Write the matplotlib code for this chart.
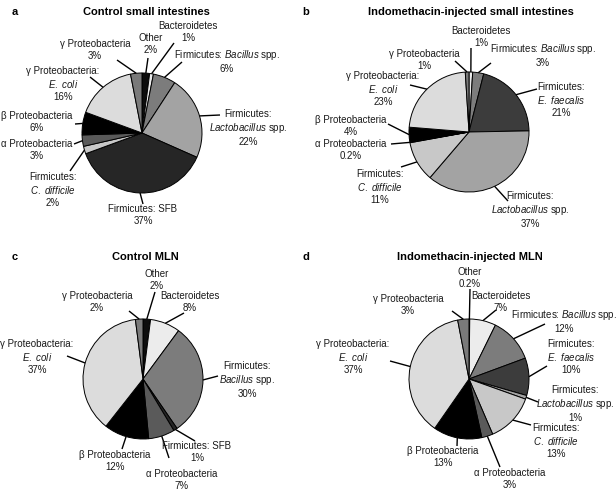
import numpy as np
import matplotlib
matplotlib.use("Agg")
import matplotlib.pyplot as plt

plt.rcParams['font.family'] = ['Liberation Sans', 'DejaVu Sans']
plt.rcParams['mathtext.fontset'] = 'custom'
plt.rcParams['mathtext.rm'] = 'Liberation Sans'
plt.rcParams['mathtext.it'] = 'Liberation Sans:italic'

W, H = 616, 490

colors = {
    "other": "#0d0d0d", "bact": "#ececec", "bacillus": "#7c7c7c",
    "lacto": "#a3a3a3", "sfb": "#262626", "faecalis": "#3c3c3c",
    "cdiff": "#c8c8c8", "alpha": "#5a5a5a", "beta": "#000000",
    "ecoli": "#dcdcdc", "gamma": "#7a7a7a",
}

ECOLI = "$\\mathit{E.}$ $\\mathit{coli}$"
CDIFF = "$\\mathit{C.}$ $\\mathit{difficile}$"
EFAEC = "$\\mathit{E.}$ $\\mathit{faecalis}$"

# a: control small intestines
groups_a = ["other", "bact", "bacillus", "lacto", "sfb", "cdiff", "alpha", "beta", "ecoli", "gamma"]
values_a = [2, 1, 6, 22, 37, 2, 3, 6, 16, 3]
labels_a = ["Other\n2%", "Bacteroidetes\n1%", "Firmicutes: $\\mathit{Bacillus}$ spp.\n6%",
            "Firmicutes:\n$\\mathit{Lactobacillus}$ spp.\n22%", "Firmicutes: SFB\n37%",
            "Firmicutes:\n" + CDIFF + "\n2%", "α Proteobacteria\n3%",
            "β Proteobacteria\n6%", "γ Proteobacteria:\n" + ECOLI + "\n16%",
            "γ Proteobacteria\n3%"]

# b: indomethacin-injected small intestines
groups_b = ["bact", "bacillus", "faecalis", "lacto", "cdiff", "alpha", "beta", "ecoli", "gamma"]
values_b = [1, 3, 21, 37, 11, 0.2, 4, 23, 1]
labels_b = ["Bacteroidetes\n1%", "Firmicutes: $\\mathit{Bacillus}$ spp.\n3%",
            "Firmicutes:\n" + EFAEC + "\n21%",
            "Firmicutes:\n$\\mathit{Lactobacillus}$ spp.\n37%",
            "Firmicutes:\n" + CDIFF + "\n11%", "α Proteobacteria\n0.2%",
            "β Proteobacteria\n4%", "γ Proteobacteria:\n" + ECOLI + "\n23%",
            "γ Proteobacteria\n1%"]

# c: control MLN
groups_c = ["other", "bact", "bacillus", "sfb", "alpha", "beta", "ecoli", "gamma"]
values_c = [2, 8, 30, 1, 7, 12, 37, 2]
labels_c = ["Other\n2%", "Bacteroidetes\n8%", "Firmicutes:\n$\\mathit{Bacillus}$ spp.\n30%",
            "Firmicutes: SFB\n1%", "α Proteobacteria\n7%", "β Proteobacteria\n12%",
            "γ Proteobacteria:\n" + ECOLI + "\n37%", "γ Proteobacteria\n2%"]

# d: indomethacin-injected MLN
groups_d = ["other", "bact", "bacillus", "faecalis", "lacto", "cdiff", "alpha", "beta", "ecoli", "gamma"]
values_d = [0.2, 7, 12, 10, 1, 13, 3, 13, 37, 3]
labels_d = ["Other\n0.2%", "Bacteroidetes\n7%", "Firmicutes: $\\mathit{Bacillus}$ spp.\n12%",
            "Firmicutes:\n" + EFAEC + "\n10%",
            "Firmicutes:\n$\\mathit{Lactobacillus}$ spp.\n1%",
            "Firmicutes:\n" + CDIFF + "\n13%", "α Proteobacteria\n3%",
            "β Proteobacteria\n13%", "γ Proteobacteria:\n" + ECOLI + "\n37%",
            "γ Proteobacteria\n3%"]

titles = ["Control small intestines", "Indomethacin-injected small intestines",
          "Control MLN", "Indomethacin-injected MLN"]
letters = ["a", "b", "c", "d"]

# layout, in pixels from the top-left corner
centers = [(142, 133), (469, 132), (143, 379), (469, 379)]
radius = 60
title_pos = [(146, 12), (471, 12), (145, 257), (470, 257)]
letter_pos = [(15, 12), (306, 12), (15, 257), (306, 257)]
text_a = [(151, 44), (188, 32), (227, 61), (248, 128), (143, 215), (53, 190), (37, 150), (37, 122), (63, 84), (95, 50)]
end_a = [(148, 58), (174, 43), (182, 62), (220, 115), (143, 204), (70, 171), (74, 144), (75, 124), (90, 77), (117, 60)]
text_b = [(481, 37), (543, 55), (561, 100), (530, 210), (380, 187), (351, 150), (351, 126), (383, 89), (424, 60)]
end_b = [(471, 48), (491, 63), (537, 89), (508, 201), (401, 167), (391, 144), (388, 124), (410, 85), (455, 61)]
text_c = [(157, 280), (190, 302), (247, 380), (197, 452), (182, 480), (115, 461), (37, 357), (97, 302)]
end_c = [(155, 292), (184, 313), (218, 376), (195, 441), (169, 458), (122, 449), (67, 356), (129, 311)]
text_d = [(470, 278), (501, 302), (564, 321), (571, 357), (575, 404), (556, 441), (510, 479), (443, 457), (353, 357), (408, 305)]
end_d = [(470, 289), (496, 310), (545, 324), (547, 366), (538, 402), (531, 425), (500, 467), (457, 446), (390, 361), (452, 311)]

panels = [
    (groups_a, values_a, labels_a, text_a, end_a),
    (groups_b, values_b, labels_b, text_b, end_b),
    (groups_c, values_c, labels_c, text_c, end_c),
    (groups_d, values_d, labels_d, text_d, end_d),
]

fig = plt.figure(figsize=(6.16, 4.9), dpi=100)
ax = fig.add_axes([0, 0, 1, 1])

for i, (groups, vals, labs, tpos, ends) in enumerate(panels):
    cx, cy = centers[i]
    wedges, _ = ax.pie(vals, colors=[colors[g] for g in groups], center=(cx, H - cy),
                       radius=radius, startangle=90, counterclock=False,
                       wedgeprops=dict(edgecolor='black', linewidth=0.7))
    for w, lab, tp, le in zip(wedges, labs, tpos, ends):
        ang = np.deg2rad((w.theta1 + w.theta2) / 2)
        x0 = w.center[0] + w.r * np.cos(ang)
        y0 = w.center[1] + w.r * np.sin(ang)
        ax.plot([x0, le[0]], [y0, H - le[1]], color='black', lw=1.0, solid_capstyle='butt')
        ax.text(tp[0], H - tp[1], lab, ha='center', va='center', fontsize=7,
                linespacing=1.25, color='#1a1a1a')
    ax.text(title_pos[i][0], H - title_pos[i][1], titles[i], ha='center', va='center',
            fontsize=8, fontweight='bold')
    ax.text(letter_pos[i][0], H - letter_pos[i][1], letters[i], ha='center', va='center',
            fontsize=8, fontweight='bold')

ax.set_xlim(0, W)
ax.set_ylim(0, H)
ax.axis('off')
fig.savefig("out.png", dpi=100)
